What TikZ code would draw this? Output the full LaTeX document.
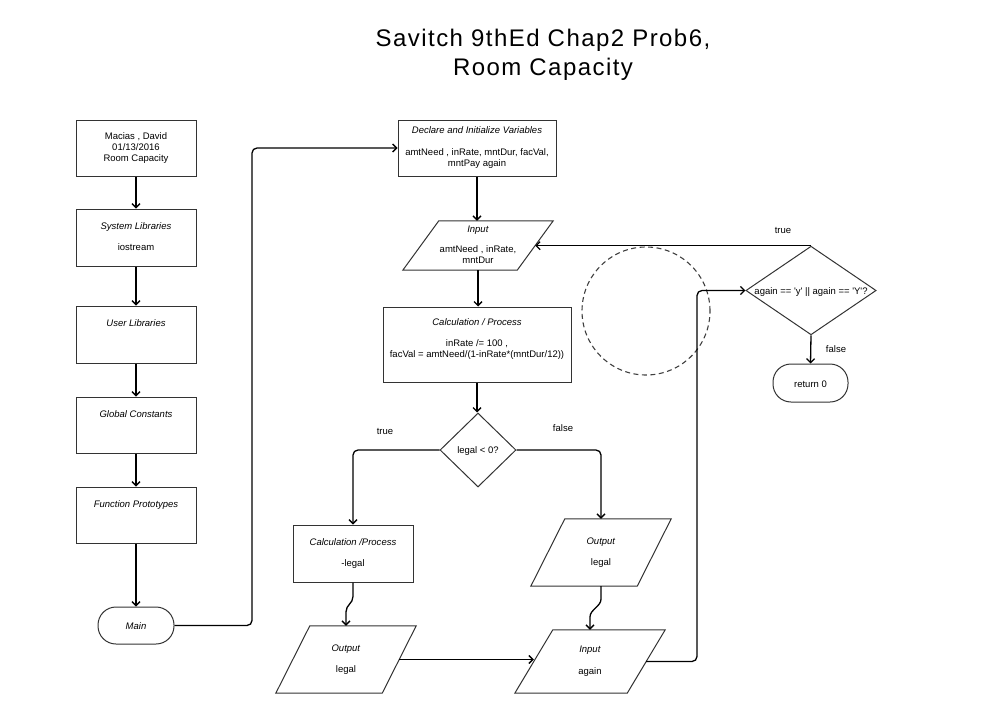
\documentclass[tikz,border=0pt]{standalone}
\usepackage{fontspec}
\setmainfont{Liberation Sans}
\usetikzlibrary{arrows.meta,shapes.geometric,calc}
\newcommand\fsmall{\fontsize{9.5}{11}\selectfont}
\newcommand\topstrut{\rule{0pt}{9.7pt}}
\newcommand\botstrut{\rule[-1.3pt]{0pt}{1.3pt}}
\newcommand\parashape[2]{\draw[shp] ([xshift=#2/2]#1.north west) -- ([xshift=#2/2]#1.north east) -- ([xshift=-#2/2]#1.south east) -- ([xshift=-#2/2]#1.south west) -- cycle;}
\tikzset{
  shp/.style={draw=black!80, line width=1pt},
  txt/.style={font=\fsmall, align=center, inner sep=0pt, execute at begin node=\topstrut, execute at end node=\botstrut},
  box/.style={txt, shp, rectangle, minimum width=120pt, minimum height=56pt},
  term/.style={txt, shp, rectangle, rounded corners=18pt, minimum width=76pt, minimum height=37pt},
  para/.style={txt, rectangle, draw=none},
  dia/.style={txt, shp, diamond},
  lbl/.style={font=\fsmall, inner sep=0pt},
  ttl/.style={font=\fontsize{24}{28}\selectfont\addfontfeature{LetterSpace=6}, inner sep=0pt, anchor=base},
  conn/.style={draw=black, line width=1.3pt, -{Straight Barb[length=4pt,width=8pt]}},
  ring/.style={circle, draw=black!75, line width=1.1pt, dash pattern=on 5pt off 3.5pt, minimum size=128pt, inner sep=0pt}
}
\begin{document}
\begin{tikzpicture}[x=1pt,y=-1pt]
\useasboundingbox (0,0) rectangle (992,717);
% title
\node[ttl] (t1) at (543,47) {Savitch 9thEd Chap2 Prob6,};
\node[ttl] (t2) at (543,75) {Room Capacity};
% left column
\node[box] (info) at (136,148) {Macias , David\\01/13/2016\\Room Capacity};
\node[box, minimum height=57pt] (sys) at (136,237.5) {\textit{System Libraries}\\[10pt]iostream};
\node[box, minimum height=57pt] (usr) at (136,334.5) {\textit{User Libraries}\\[10pt]};
\node[box] (glob) at (136,425) {\textit{Global Constants}\\[10pt]};
\node[box] (proto) at (136,515) {\textit{Function Prototypes}\\[10pt]};
\node[term] (main) at (136,625.5) {\textit{Main}};
% middle
\node[box, minimum width=158pt] (decl) at (477,148) {\textit{Declare and Initialize Variables}\\[11pt]amtNeed , inRate, mntDur, facVal,\\mntPay again};
\node[para, minimum width=114pt, minimum height=49pt] (in1) at (478,245.5) {\textit{Input}\\[9pt]amtNeed , inRate,\\mntDur};
\parashape{in1}{36}
\node[box, minimum width=188pt, minimum height=75pt] (calc) at (477,344.5) {\textit{Calculation / Process}\\[10pt]inRate /= 100 ,\\facVal = amtNeed/(1-inRate*(mntDur/12))\\};
\node[dia, aspect=1.03, minimum width=76pt, minimum height=74pt] (d1) at (478,450) {legal < 0?};
\node[box, minimum height=57pt] (calc2) at (353,553.5) {\textit{Calculation /Process}\\[10pt]-legal};
\node[para, minimum width=106pt, minimum height=67pt] (out1) at (601,552.5) {\textit{Output}\\[10pt]legal};
\parashape{out1}{34}
\node[para, minimum width=106pt, minimum height=67pt] (out2) at (346,659.5) {\textit{Output}\\[10pt]legal};
\parashape{out2}{34}
\node[para, minimum width=112pt, minimum height=63pt] (in2) at (590,661.5) {\textit{Input}\\[11pt]again};
\parashape{in2}{38}
% right
\node[ring] (circ) at (646,311) {};
\node[dia, aspect=1.47, minimum width=128pt, minimum height=87pt] (d2) at (811,290.5) {again == \textquotesingle y\textquotesingle{} || again == \textquotesingle Y\textquotesingle ?};
\node[term, minimum width=75pt, minimum height=38pt] (ret) at (810.5,383) {return 0};
% labels
\node[lbl] (lt1) at (385,431) {true};
\node[lbl] (lf1) at (563,428) {false};
\node[lbl] (lt2) at (783,230) {true};
\node[lbl] (lf2) at (836,349) {false};
% connectors
\draw[conn] (info.south) -- (sys.north);
\draw[conn] (sys.south) -- (usr.north);
\draw[conn] (usr.south) -- (glob.north);
\draw[conn] (glob.south) -- (proto.north);
\draw[conn] (proto.south) -- (main.north);
\coordinate (mj) at (252,0);
\draw[conn, rounded corners=5pt] (main.east) -| (mj |- decl.west) -- (decl.west);
\draw[conn] (decl.south) -- (decl.south |- in1.north);
\draw[conn] (in1.south) -- (in1.south |- calc.north);
\draw[conn] (calc.south) -- (calc.south |- d1.north);
\draw[conn, rounded corners=5pt] (d1.west) -| (calc2.north);
\draw[conn, rounded corners=5pt] (d1.east) -| (out1.north);
\draw[conn] (calc2.south) -- ++(0,14) .. controls +(0,7) and +(0,-7) .. ($(out2.north)+(0,-14)$) -- (out2.north);
\draw[conn] (out1.south) -- ++(0,13) .. controls +(0,7) and +(0,-7) .. ($(in2.north)+(0,-13)$) -- (in2.north);
\draw[conn] (out2.east) -- (out2.east -| in2.west);
\coordinate (rj) at (697,0);
\draw[conn, rounded corners=5pt] (in2.east) -| (rj |- d2.west) -- (d2.west);
\draw[conn] (d2.north) -- (d2.north -| in1.east);
\draw[conn] (d2.south) -- (ret.north);
\end{tikzpicture}
\end{document}
